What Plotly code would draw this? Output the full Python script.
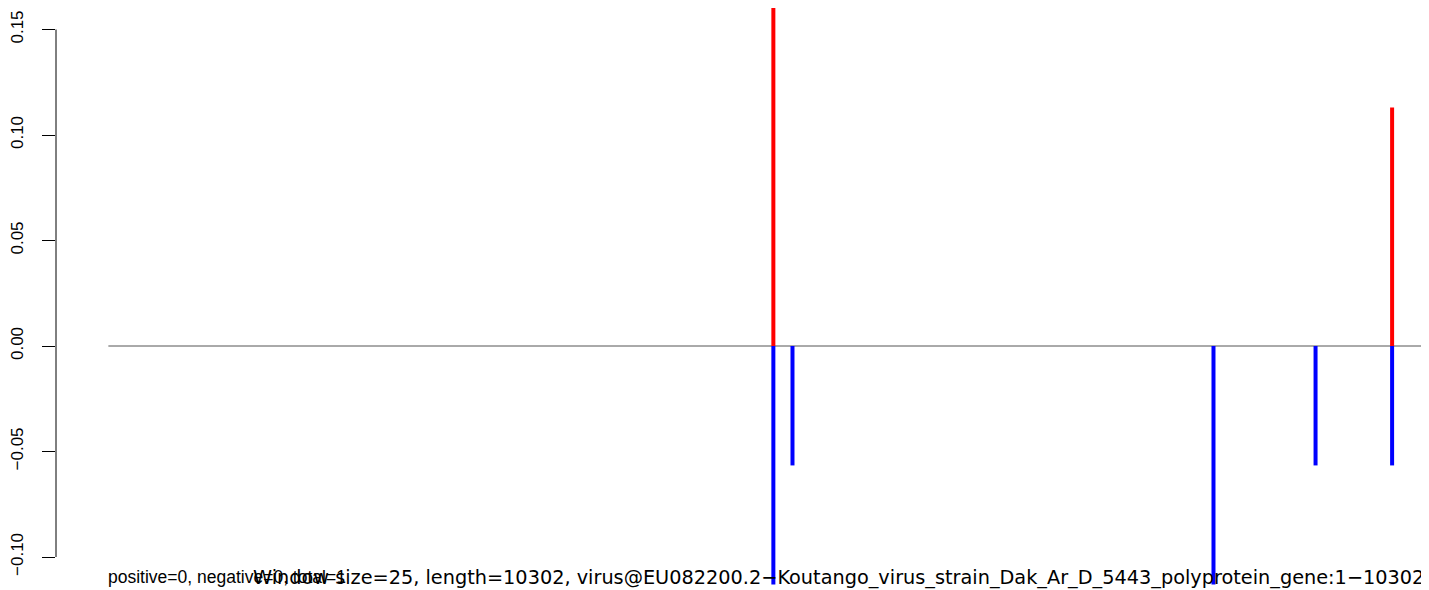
import plotly.graph_objects as go

# window indices along the sequence
pos_windows = [209, 403]
pos_values = [0.17, 0.113]
neg_windows = [209, 215, 347, 379, 403]
neg_values = [-0.113, -0.0566, -0.113, -0.0566, -0.0566]

line_start, line_end = 0.5, 420
y_ticks = [-0.10, -0.05, 0.00, 0.05, 0.10, 0.15]
y_tick_labels = ["\u22120.10", "\u22120.05", "0.00", "0.05", "0.10", "0.15"]

stats_text = "positive=0, negative=0, total=1"
title_text = ("Window size=25, length=10302, virus@EU082200.2\u2212Koutango_virus_strain_"
              "Dak_Ar_D_5443_polyprotein_gene:1\u221210302")

# page has an 8px body margin: figure spans pixels 8..1437 / 8..598
OFF = 8
PPU_Y = 2110.0  # pixels per y unit
Y0_PX = 346     # pixel row of y = 0
y_top = (Y0_PX - OFF) / PPU_Y
y_bot = -(590 - Y0_PX) / PPU_Y
PLOT_L = 51


def segs(xs, ys):
    sx, sy = [], []
    for x, y in zip(xs, ys):
        sx += [x, x, None]
        sy += [0, y, None]
    return sx, sy


fig = go.Figure()
fig.add_trace(go.Scatter(x=[line_start, line_end], y=[0, 0], mode="lines",
                         line=dict(color="#555555", width=1), hoverinfo="skip"))
px_, py_ = segs(pos_windows, pos_values)
fig.add_trace(go.Scatter(x=px_, y=py_, mode="lines",
                         line=dict(color="#FF0000", width=4)))
nx_, ny_ = segs(neg_windows, neg_values)
fig.add_trace(go.Scatter(x=nx_, y=ny_, mode="lines",
                         line=dict(color="#0000FF", width=4)))

fig.add_shape(type="line", xref="paper", yref="y", x0=0, x1=0,
              y0=y_ticks[0], y1=y_ticks[-1], line=dict(color="black", width=1))

txt_y = -(577 - Y0_PX) / PPU_Y
fig.add_annotation(text=stats_text, xref="paper", yref="y", x=(101 - PLOT_L) / 1378,
                   y=txt_y, xanchor="left", yanchor="middle", showarrow=False,
                   font=dict(family="Liberation Sans, Arial, sans-serif", size=17.5, color="black"))
fig.add_annotation(text=title_text, xref="paper", yref="y", x=(247 - PLOT_L) / 1378,
                   y=txt_y, xanchor="left", yanchor="middle", showarrow=False,
                   font=dict(family="DejaVu Sans, sans-serif", size=19.3, color="black"))

fig.update_layout(
    width=1429 - OFF, height=590 - OFF,
    margin=dict(l=PLOT_L - OFF, r=0, t=0, b=0),
    paper_bgcolor="white", plot_bgcolor="white",
    showlegend=False,
    font=dict(family="Liberation Sans, Arial, sans-serif", size=17, color="black"),
    xaxis=dict(range=[-15.92, 414.57], visible=False, fixedrange=True),
    yaxis=dict(range=[y_bot, y_top], tickvals=y_ticks, ticktext=y_tick_labels,
               tickangle=-90, ticks="outside", ticklen=13, tickcolor="black",
               tickwidth=1, showgrid=False, zeroline=False, showline=False,
               ticklabelstandoff=12, tickfont=dict(size=17, color="black")),
)

fig.write_html("out.html")
